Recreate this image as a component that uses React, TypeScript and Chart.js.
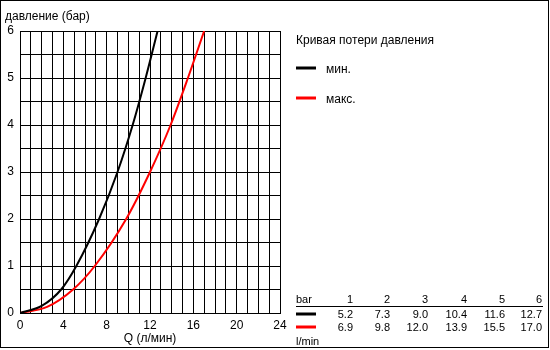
import React, { useEffect, useRef } from "react";
import { Chart, registerables } from "chart.js";

Chart.register(...registerables);

const pressureBar = [1, 2, 3, 4, 5, 6];
const flowMin = [5.2, 7.3, 9.0, 10.4, 11.6, 12.7];
const flowMax = [6.9, 9.8, 12.0, 13.9, 15.5, 17.0];
// low-pressure points
const lowMinQ = [0, 2, 3.8];
const lowMinP = [0, 0.15, 0.5];
const lowMaxQ = [0, 2.5, 4.9];
const lowMaxP = [0, 0.13, 0.5];

const xTickLabels = [0, 4, 8, 12, 16, 20, 24];
const yTickLabels = [0, 1, 2, 3, 4, 5, 6];

const legendTitle = "Кривая потери давления";
const seriesNames = ["мин.", "макс."];
const seriesColors = ["#000000", "#ff0000"];
const yAxisTitle = "давление (бар)";
const xAxisTitle = "Q (л/мин)";
const tableHeader = "bar";
const tableFooter = "l/min";

const FONT = "'Liberation Sans', Arial, sans-serif";

function buildPoints(lowQ: number[], lowP: number[], q: number[], p: number[]) {
  const pts = lowQ.map((x, i) => ({ x, y: lowP[i] }));
  q.forEach((x, i) => pts.push({ x, y: p[i] }));
  return pts;
}

const extrasPlugin = {
  id: "extras",
  afterDraw(chart: any) {
    const ctx = chart.ctx as CanvasRenderingContext2D;
    ctx.save();
    // outer border
    ctx.strokeStyle = "#000";
    ctx.lineWidth = 1;
    ctx.strokeRect(0.5, 0.5, 548, 347);

    ctx.fillStyle = "#000";
    ctx.textBaseline = "middle";
    ctx.font = `12px ${FONT}`;
    ctx.textAlign = "left";
    ctx.fillText(yAxisTitle, 5, 17);
    ctx.textAlign = "center";
    ctx.fillText(xAxisTitle, 150, 339);

    // legend
    ctx.textAlign = "left";
    ctx.fillText(legendTitle, 296, 41);
    const legY = [68, 98];
    seriesNames.forEach((n, i) => {
      ctx.strokeStyle = seriesColors[i];
      ctx.lineWidth = 3;
      ctx.beginPath();
      ctx.moveTo(296, legY[i]);
      ctx.lineTo(316, legY[i]);
      ctx.stroke();
      ctx.fillStyle = "#000";
      ctx.fillText(n, 326, legY[i] + 2);
    });

    // table
    ctx.font = `11px ${FONT}`;
    const colX = [353, 390, 428, 467, 505, 542];
    ctx.textAlign = "left";
    ctx.fillText(tableHeader, 296, 300);
    ctx.fillText(tableFooter, 296, 342);
    ctx.textAlign = "right";
    pressureBar.forEach((b, i) => ctx.fillText(String(b), colX[i], 300));
    ctx.strokeStyle = "#000";
    ctx.lineWidth = 1;
    ctx.beginPath();
    ctx.moveTo(296, 306.5);
    ctx.lineTo(543, 306.5);
    ctx.stroke();
    const rows = [flowMin, flowMax];
    const rowY = [314, 327];
    rows.forEach((r, ri) => {
      ctx.strokeStyle = seriesColors[ri];
      ctx.lineWidth = 3;
      ctx.beginPath();
      ctx.moveTo(296, rowY[ri]);
      ctx.lineTo(316, rowY[ri]);
      ctx.stroke();
      ctx.fillStyle = "#000";
      r.forEach((v, i) => ctx.fillText(v.toFixed(1), colX[i], rowY[ri] + 1));
    });
    ctx.restore();
  },
};

export default function App() {
  const ref = useRef<HTMLCanvasElement>(null);
  useEffect(() => {
    const chart = new Chart(ref.current!, {
      type: "scatter",
      data: {
        datasets: [
          {
            label: seriesNames[0],
            data: buildPoints(lowMinQ, lowMinP, flowMin, pressureBar),
            showLine: true,
            borderColor: seriesColors[0],
            borderWidth: 2,
            pointRadius: 0,
            cubicInterpolationMode: "monotone",
          },
          {
            label: seriesNames[1],
            data: buildPoints(lowMaxQ, lowMaxP, flowMax, pressureBar),
            showLine: true,
            borderColor: seriesColors[1],
            borderWidth: 2,
            pointRadius: 0,
            cubicInterpolationMode: "monotone",
          },
        ],
      },
      options: {
        animation: false,
        responsive: false,
        devicePixelRatio: 1,
        layout: { padding: { left: 0, top: 31, right: 270, bottom: 0 } },
        plugins: { legend: { display: false }, tooltip: { enabled: false } },
        scales: {
          x: {
            type: "linear",
            min: 0,
            max: 24,
            afterFit: (s: any) => { s.height = 37; },
            grid: { color: "#000", lineWidth: 1, drawTicks: false },
            border: { color: "#000" },
            ticks: {
              stepSize: 1,
              padding: 5,
              maxRotation: 0,
              autoSkip: false,
              color: "#000",
              font: { family: FONT, size: 12 },
              callback: (v: any) => (xTickLabels.includes(Number(v)) ? String(v) : ""),
            },
          },
          y: {
            type: "linear",
            min: 0,
            max: 6,
            afterFit: (s: any) => { s.width = 20; },
            grid: { color: "#000", lineWidth: 1, drawTicks: false },
            border: { color: "#000" },
            ticks: {
              stepSize: 0.5,
              padding: 6,
              autoSkip: false,
              color: "#000",
              font: { family: FONT, size: 12 },
              callback: (v: any) => (yTickLabels.includes(Number(v)) ? String(v) : ""),
            },
          },
        },
      },
      plugins: [extrasPlugin],
    } as any);
    return () => chart.destroy();
  }, []);
  return (
    <div style={{ position: "fixed", left: 0, top: 0, width: 550, height: 350, background: "#fff" }}>
      <canvas ref={ref} width={550} height={350} style={{ width: 550, height: 350 }} />
    </div>
  );
}
